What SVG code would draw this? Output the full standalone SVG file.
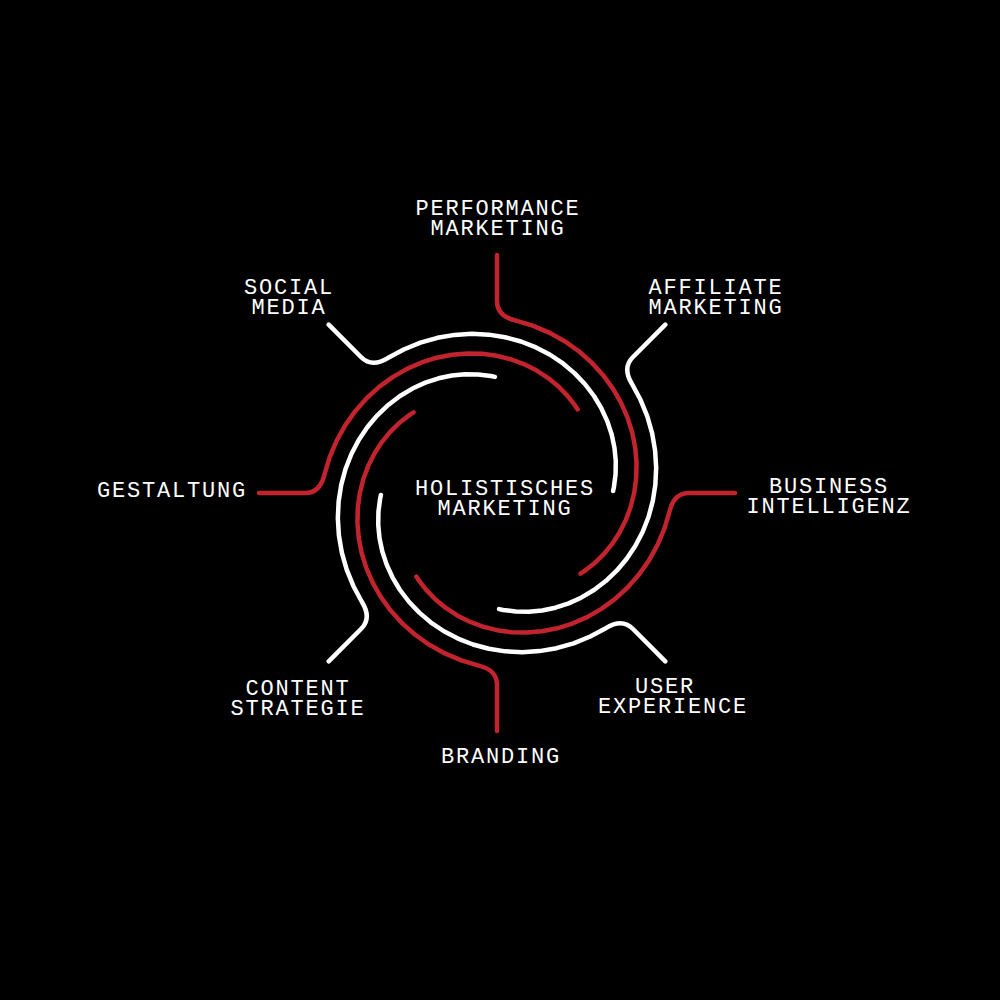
<svg xmlns="http://www.w3.org/2000/svg" width="1000" height="1000" viewBox="0 0 1000 1000">
<style>
.arm{fill:none;stroke-width:4.5;stroke-linecap:round;stroke-linejoin:round}
.red{stroke:#c1232f}
.white{stroke:#ffffff}
text{font-family:"Liberation Mono","DejaVu Sans Mono",monospace;font-size:22px;fill:#ffffff;text-anchor:middle;letter-spacing:1.8px}
</style>
<defs>
<path id="armPath" d="M0,-238 L0,-192 Q0,-177 18.14,-172.64 L35.58,-167.41 L52.13,-160.43 L67.6,-151.83 L81.84,-141.76 L94.72,-130.37 L106.11,-117.85 L115.92,-104.38 L124.09,-90.15 L130.55,-75.37 L135.28,-60.23 L138.27,-44.93 L139.55,-29.66 L139.16,-14.63 L137.17,0 L133.63,14.05 L128.69,27.35 L122.42,39.78 L114.97,51.19 L106.49,61.48 L97.12,70.56 L87.02,78.36 L83.53,80.66"/>
</defs>
<rect x="0" y="0" width="1000" height="1000" fill="#000000"/>
<g id="connectors">
<use href="#armPath" class="arm red" transform="translate(497 493) rotate(0)"/>
<use href="#armPath" class="arm white" transform="translate(497 493) rotate(45)"/>
<use href="#armPath" class="arm red" transform="translate(497 493) rotate(90)"/>
<use href="#armPath" class="arm white" transform="translate(497 493) rotate(135)"/>
<use href="#armPath" class="arm red" transform="translate(497 493) rotate(180)"/>
<use href="#armPath" class="arm white" transform="translate(497 493) rotate(225)"/>
<use href="#armPath" class="arm red" transform="translate(497 493) rotate(270)"/>
<use href="#armPath" class="arm white" transform="translate(497 493) rotate(315)"/>
</g>
<g id="node-center"><text x="505" y="495">HOLISTISCHES</text><text x="505" y="515">MARKETING</text></g>
<g id="node-performance"><text x="498" y="215">PERFORMANCE</text><text x="498" y="235">MARKETING</text></g>
<g id="node-affiliate"><text x="716" y="294">AFFILIATE</text><text x="716" y="314">MARKETING</text></g>
<g id="node-business"><text x="829" y="493">BUSINESS</text><text x="829" y="513">INTELLIGENZ</text></g>
<g id="node-user-experience"><text x="665" y="693">USER</text><text x="673" y="713">EXPERIENCE</text></g>
<g id="node-branding"><text x="501" y="763">BRANDING</text></g>
<g id="node-content-strategie"><text x="298" y="695">CONTENT</text><text x="298" y="715">STRATEGIE</text></g>
<g id="node-gestaltung"><text x="172" y="497">GESTALTUNG</text></g>
<g id="node-social-media"><text x="289" y="294">SOCIAL</text><text x="289" y="314">MEDIA</text></g>
</svg>
